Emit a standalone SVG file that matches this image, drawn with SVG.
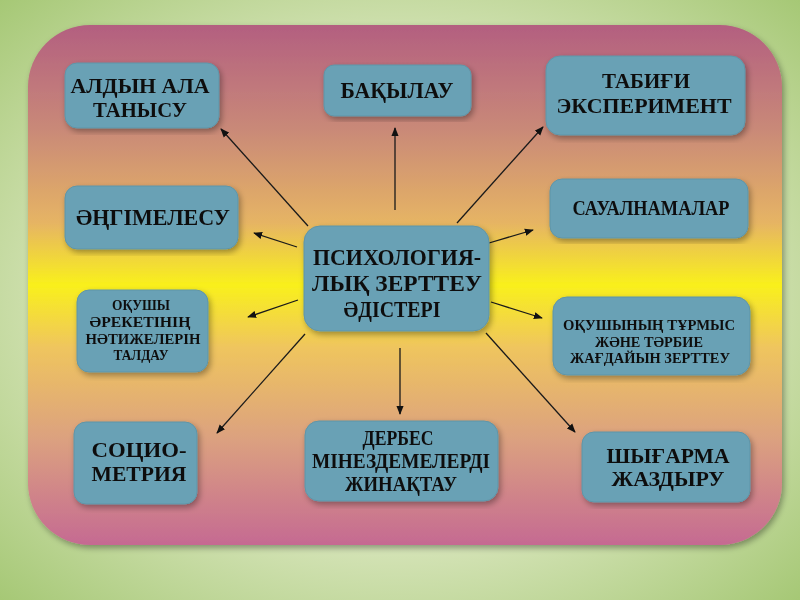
<svg xmlns="http://www.w3.org/2000/svg" width="800" height="600" viewBox="0 0 800 600">
<defs>
<radialGradient id="bg" cx="0.5" cy="0.5" r="0.75">
<stop offset="0" stop-color="#f3f5e8"/>
<stop offset="0.55" stop-color="#d4e3b6"/>
<stop offset="1" stop-color="#9fc46c"/>
</radialGradient>
<linearGradient id="panel" x1="0" y1="0" x2="0" y2="1">
<stop offset="0" stop-color="#b35f80"/>
<stop offset="0.2" stop-color="#c98978"/>
<stop offset="0.38" stop-color="#e6b464"/>
<stop offset="0.5" stop-color="#f9f01c"/>
<stop offset="0.62" stop-color="#efc55e"/>
<stop offset="0.8" stop-color="#dba080"/>
<stop offset="1" stop-color="#c56a92"/>
</linearGradient>
<filter id="sh" x="-10%" y="-10%" width="120%" height="120%">
<feGaussianBlur in="SourceAlpha" stdDeviation="3"/>
<feOffset dx="2" dy="3"/>
<feComponentTransfer><feFuncA type="linear" slope="0.35"/></feComponentTransfer>
<feMerge><feMergeNode/><feMergeNode in="SourceGraphic"/></feMerge>
</filter>
<marker id="ah" viewBox="0 0 10 10" refX="9" refY="5" markerWidth="9" markerHeight="9" markerUnits="userSpaceOnUse" orient="auto">
<path d="M0,1 L10,5 L0,9 Z" fill="#111"/>
</marker>
</defs>
<style>
.box{fill:#69a1b5;stroke:#5f95a8;stroke-width:1}
.t{font-family:"Liberation Serif","Times New Roman",serif;font-weight:bold;fill:#111;text-anchor:middle}
.conn line{stroke:#1a1a1a;stroke-width:1.3;marker-end:url(#ah)}
</style>
<rect x="0" y="0" width="800" height="600" fill="url(#bg)"/>
<rect x="28" y="25" width="754" height="520" rx="62" ry="62" fill="url(#panel)" filter="url(#sh)"/>

<g class="conn">
<line x1="308" y1="226" x2="221" y2="129"/>
<line x1="395" y1="210" x2="395" y2="128"/>
<line x1="457" y1="223" x2="543" y2="127"/>
<line x1="297" y1="247" x2="254" y2="233"/>
<line x1="489" y1="243" x2="533" y2="230"/>
<line x1="298" y1="300" x2="248" y2="317"/>
<line x1="491" y1="302" x2="542" y2="318"/>
<line x1="305" y1="334" x2="217" y2="433"/>
<line x1="400" y1="348" x2="400" y2="414"/>
<line x1="486" y1="333" x2="575" y2="432"/>
</g>

<g id="center" filter="url(#sh)">
<rect class="box" x="304" y="226" width="185" height="105" rx="16"/>
<text class="t" font-size="23" x="397" y="265" textLength="168" lengthAdjust="spacingAndGlyphs">ПСИХОЛОГИЯ-</text>
<text class="t" font-size="23" x="397" y="291" textLength="170" lengthAdjust="spacingAndGlyphs">ЛЫҚ ЗЕРТТЕУ</text>
<text class="t" font-size="23" x="392" y="317" textLength="97" lengthAdjust="spacingAndGlyphs">ӘДІСТЕРІ</text>
</g>

<g id="n1" filter="url(#sh)">
<rect class="box" x="65" y="63" width="154" height="65" rx="12"/>
<text class="t" font-size="22" x="140" y="93" textLength="139" lengthAdjust="spacingAndGlyphs">АЛДЫН АЛА</text>
<text class="t" font-size="22" x="140" y="117" textLength="94" lengthAdjust="spacingAndGlyphs">ТАНЫСУ</text>
</g>

<g id="n2" filter="url(#sh)">
<rect class="box" x="324" y="65" width="147" height="51" rx="10"/>
<text class="t" font-size="23" x="397" y="98" textLength="113" lengthAdjust="spacingAndGlyphs">БАҚЫЛАУ</text>
</g>

<g id="n3" filter="url(#sh)">
<rect class="box" x="546" y="56" width="199" height="79" rx="14"/>
<text class="t" font-size="21" x="646" y="88" textLength="88" lengthAdjust="spacingAndGlyphs">ТАБИҒИ</text>
<text class="t" font-size="21" x="644" y="113" textLength="175" lengthAdjust="spacingAndGlyphs">ЭКСПЕРИМЕНТ</text>
</g>

<g id="n4" filter="url(#sh)">
<rect class="box" x="65" y="186" width="173" height="63" rx="12"/>
<text class="t" font-size="23" x="153" y="225" textLength="154" lengthAdjust="spacingAndGlyphs">ӘҢГІМЕЛЕСУ</text>
</g>

<g id="n5" filter="url(#sh)">
<rect class="box" x="550" y="179" width="198" height="59" rx="12"/>
<text class="t" font-size="20" x="651" y="215" textLength="157" lengthAdjust="spacingAndGlyphs">САУАЛНАМАЛАР</text>
</g>

<g id="n6" filter="url(#sh)">
<rect class="box" x="77" y="290" width="131" height="82" rx="12"/>
<text class="t" font-size="15" x="141" y="310" textLength="58" lengthAdjust="spacingAndGlyphs">ОҚУШЫ</text>
<text class="t" font-size="15" x="140" y="327" textLength="101" lengthAdjust="spacingAndGlyphs">ӘРЕКЕТІНІҢ</text>
<text class="t" font-size="15" x="143" y="344" textLength="115" lengthAdjust="spacingAndGlyphs">НӘТИЖЕЛЕРІН</text>
<text class="t" font-size="15" x="141" y="360" textLength="55" lengthAdjust="spacingAndGlyphs">ТАЛДАУ</text>
</g>

<g id="n7" filter="url(#sh)">
<rect class="box" x="553" y="297" width="197" height="78" rx="14"/>
<text class="t" font-size="15" x="649" y="330" textLength="172" lengthAdjust="spacingAndGlyphs">ОҚУШЫНЫҢ ТҰРМЫС</text>
<text class="t" font-size="15" x="649" y="347" textLength="108" lengthAdjust="spacingAndGlyphs">ЖӘНЕ ТӘРБИЕ</text>
<text class="t" font-size="15" x="650" y="363" textLength="160" lengthAdjust="spacingAndGlyphs">ЖАҒДАЙЫН ЗЕРТТЕУ</text>
</g>

<g id="n8" filter="url(#sh)">
<rect class="box" x="74" y="422" width="123" height="82" rx="12"/>
<text class="t" font-size="22" x="139" y="457" textLength="95" lengthAdjust="spacingAndGlyphs">СОЦИО-</text>
<text class="t" font-size="22" x="139" y="481" textLength="95" lengthAdjust="spacingAndGlyphs">МЕТРИЯ</text>
</g>

<g id="n9" filter="url(#sh)">
<rect class="box" x="305" y="421" width="193" height="80" rx="14"/>
<text class="t" font-size="20" x="398" y="445" textLength="71" lengthAdjust="spacingAndGlyphs">ДЕРБЕС</text>
<text class="t" font-size="20" x="401" y="468" textLength="178" lengthAdjust="spacingAndGlyphs">МІНЕЗДЕМЕЛЕРДІ</text>
<text class="t" font-size="20" x="401" y="491" textLength="112" lengthAdjust="spacingAndGlyphs">ЖИНАҚТАУ</text>
</g>

<g id="n10" filter="url(#sh)">
<rect class="box" x="582" y="432" width="168" height="70" rx="12"/>
<text class="t" font-size="22" x="668" y="463" textLength="123" lengthAdjust="spacingAndGlyphs">ШЫҒАРМА</text>
<text class="t" font-size="22" x="668" y="486" textLength="113" lengthAdjust="spacingAndGlyphs">ЖАЗДЫРУ</text>
</g>
</svg>
